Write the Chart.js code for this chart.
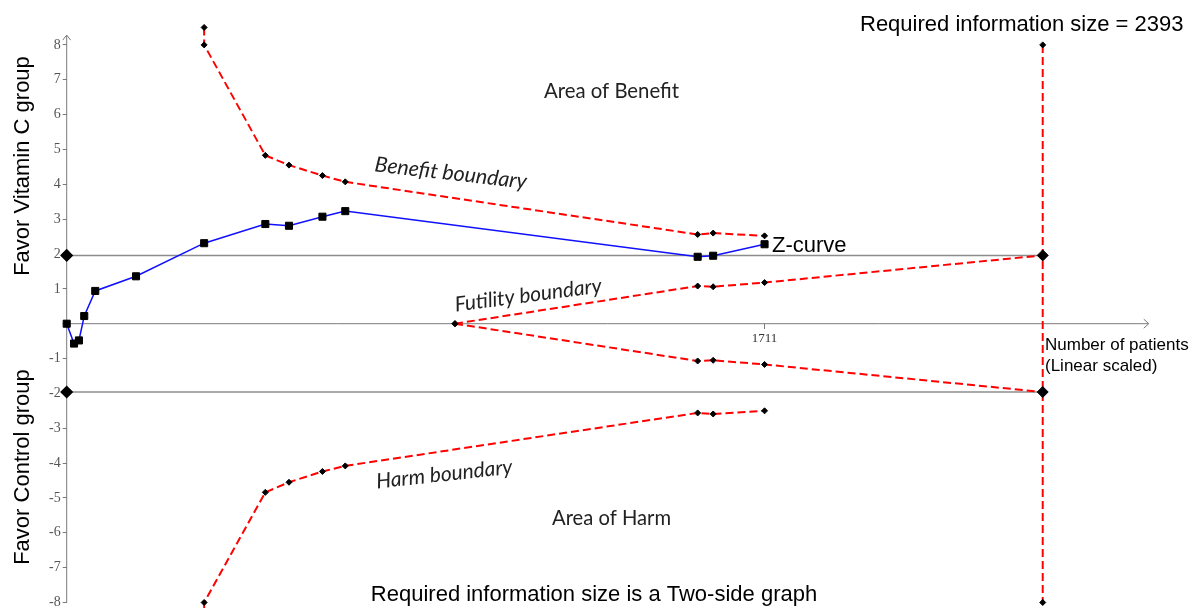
<!DOCTYPE html>
<html>
<head>
<meta charset="utf-8">
<title>Trial sequential analysis – Vitamin C</title>
<script src="https://cdn.jsdelivr.net/npm/chart.js@4/dist/chart.umd.min.js"></script>
<style>
  html, body { margin: 0; padding: 0; background: #ffffff; }
  #wrap { position: relative; width: 1192px; height: 611px; }
</style>
</head>
<body>
<div id="wrap"><canvas id="tsa"></canvas></div>
<script>
// ---- data -------------------------------------------------------------
const requiredInfoSize = 2393;
const conventionalZ = 1.96;

// cumulative Z-curve (number of patients vs. cumulative Z)
const zPatients = [0, 18, 30, 43, 70, 170, 337, 487, 545, 627, 683, 1547, 1585, 1711];
const zValues   = [0, -0.57, -0.48, 0.22, 0.94, 1.36, 2.31, 2.86, 2.81, 3.07, 3.23, 1.92, 1.95, 2.28];

// monitoring boundaries (O'Brien-Fleming type)
const boundaryPatients = [337, 337, 487, 545, 627, 683, 1547, 1585, 1711];
const benefitValues    = [8.5, 8.0, 4.83, 4.55, 4.25, 4.07, 2.56, 2.60, 2.52];
const harmValues       = [-8.5, -8.0, -4.84, -4.55, -4.24, -4.08, -2.56, -2.59, -2.50];

// futility (inner wedge) boundaries
const futilityPatients = [952, 1547, 1585, 1711, 2393];
const futilityUpper    = [0, 1.08, 1.06, 1.18, 1.96];
const futilityLower    = [0, -1.07, -1.05, -1.17, -1.96];

// required information size marker
const risPatients = [2393, 2393];
const risValues   = [8, -8];

// axis ticks
const yTickValues = [-8, -7, -6, -5, -4, -3, -2, -1, 0, 1, 2, 3, 4, 5, 6, 7, 8];
const xTickValues = [1711];

// ---- helpers ----------------------------------------------------------
const pts = (xs, ys) => xs.map((x, i) => ({ x, y: ys[i] }));

const RED = '#ff0000';
const DASH = [8, 4];

const boundaryStyle = {
  showLine: true,
  borderColor: RED,
  borderWidth: 2,
  borderDash: DASH,
  pointStyle: 'rectRot',
  pointRadius: 3,
  pointBackgroundColor: '#000',
  pointBorderColor: '#000',
  pointBorderWidth: 1,
  clip: false
};

// axis lines with arrowheads, drawn under the data
const axisArrows = {
  id: 'axisArrows',
  beforeDatasetsDraw(chart) {
    const { ctx, scales: { x, y } } = chart;
    const x0 = x.getPixelForValue(0);
    const y0 = y.getPixelForValue(0);
    const yTop = y.getPixelForValue(8.28);
    const yBottom = y.getPixelForValue(-8);
    const xEnd = x.getPixelForValue(2653);
    ctx.save();
    ctx.strokeStyle = '#7a7a7a';
    ctx.lineWidth = 1;
    ctx.beginPath();
    ctx.moveTo(x0, yBottom); ctx.lineTo(x0, yTop);
    ctx.moveTo(x0 - 4, yTop + 5); ctx.lineTo(x0, yTop); ctx.lineTo(x0 + 4, yTop + 5);
    ctx.moveTo(x0, y0); ctx.lineTo(xEnd, y0);
    ctx.moveTo(xEnd - 5, y0 - 4.5); ctx.lineTo(xEnd, y0); ctx.lineTo(xEnd - 5, y0 + 4.5);
    ctx.stroke();
    ctx.restore();
  }
};

// sets the font size so that the text fills the given width
function fitFont(ctx, text, style, family, width) {
  ctx.font = `${style} 20px ${family}`;
  const size = 20 * width / ctx.measureText(text).width;
  ctx.font = `${style} ${size.toFixed(2)}px ${family}`;
}

function rotatedText(ctx, text, cx, cy, deg, width) {
  ctx.save();
  ctx.translate(cx, cy);
  ctx.rotate(deg * Math.PI / 180);
  fitFont(ctx, text, 'italic', 'Lato, "Open Sans", sans-serif', width);
  ctx.textAlign = 'center';
  ctx.textBaseline = 'alphabetic';
  ctx.fillText(text, 0, 0);
  ctx.restore();
}

// annotations: areas, boundary names, titles
const annotations = {
  id: 'annotations',
  afterDatasetsDraw(chart) {
    const { ctx } = chart;
    ctx.save();

    // plain sans-serif labels
    ctx.fillStyle = '#000';
    ctx.font = '22px "Liberation Sans", Arial, sans-serif';
    ctx.textBaseline = 'alphabetic';
    ctx.textAlign = 'left';
    ctx.fillText('Required information size = ' + requiredInfoSize, 860, 31);
    ctx.fillText('Z-curve', 772, 252);
    ctx.textAlign = 'center';
    ctx.fillText('Required information size is a Two-side graph', 594, 601);

    ctx.font = '17px "Liberation Sans", Arial, sans-serif';
    ctx.textAlign = 'left';
    ctx.fillText('Number of patients', 1045, 350);
    ctx.fillText('(Linear scaled)', 1045, 371);

    // y-axis titles
    ctx.font = '22px "Liberation Sans", Arial, sans-serif';
    ctx.textAlign = 'center';
    ctx.save();
    ctx.translate(29, 166);
    ctx.rotate(-Math.PI / 2);
    ctx.fillText('Favor Vitamin C group', 0, 0);
    ctx.restore();
    ctx.save();
    ctx.translate(29, 467);
    ctx.rotate(-Math.PI / 2);
    ctx.fillText('Favor Control group', 0, 0);
    ctx.restore();

    // area labels
    ctx.fillStyle = '#222';
    ctx.textAlign = 'left';
    fitFont(ctx, 'Area of Benefit', 'normal', 'Lato, "Open Sans", sans-serif', 135);
    ctx.fillText('Area of Benefit', 544, 98);
    fitFont(ctx, 'Area of Harm', 'normal', 'Lato, "Open Sans", sans-serif', 119);
    ctx.fillText('Area of Harm', 552, 525);

    // boundary names
    rotatedText(ctx, 'Benefit boundary', 450, 180, 6.5, 153);
    rotatedText(ctx, 'Futility boundary', 529, 302, -7.5, 148);
    rotatedText(ctx, 'Harm boundary', 445, 481, -6.2, 137);

    ctx.restore();
  }
};

// ---- chart ------------------------------------------------------------
new Chart(document.getElementById('tsa'), {
  type: 'scatter',
  data: {
    datasets: [
      {
        label: 'Z-curve',
        data: pts(zPatients, zValues),
        showLine: true,
        borderColor: '#1010ff',
        borderWidth: 1.5,
        pointStyle: 'rect',
        pointRadius: 5,
        pointBackgroundColor: '#000',
        pointBorderColor: '#000',
        pointBorderWidth: 1,
        clip: false
      },
      { label: 'Benefit boundary', data: pts(boundaryPatients, benefitValues), ...boundaryStyle },
      { label: 'Harm boundary', data: pts(boundaryPatients, harmValues), ...boundaryStyle },
      {
        label: 'Futility boundary (upper)',
        data: pts(futilityPatients, futilityUpper),
        ...boundaryStyle,
        pointRadius: [3, 3, 3, 3, 5.5]
      },
      {
        label: 'Futility boundary (lower)',
        data: pts(futilityPatients, futilityLower),
        ...boundaryStyle,
        pointRadius: [3, 3, 3, 3, 5.5]
      },
      { label: 'Required information size', data: pts(risPatients, risValues), ...boundaryStyle },
      {
        label: 'Conventional boundary (upper)',
        data: [{ x: 0, y: conventionalZ }, { x: requiredInfoSize, y: conventionalZ }],
        showLine: true,
        borderColor: '#8c8c8c',
        borderWidth: 1.5,
        pointStyle: 'rectRot',
        pointRadius: [5.5, 0],
        pointBackgroundColor: '#000',
        pointBorderColor: '#000',
        clip: false
      },
      {
        label: 'Conventional boundary (lower)',
        data: [{ x: 0, y: -conventionalZ }, { x: requiredInfoSize, y: -conventionalZ }],
        showLine: true,
        borderColor: '#8c8c8c',
        borderWidth: 1.5,
        pointStyle: 'rectRot',
        pointRadius: [5.5, 0],
        pointBackgroundColor: '#000',
        pointBorderColor: '#000',
        clip: false
      }
    ]
  },
  options: {
    responsive: true,
    maintainAspectRatio: false,
    animation: false,
    layout: { padding: 0, autoPadding: false },
    plugins: {
      legend: { display: false },
      tooltip: { enabled: false },
      title: { display: false }
    },
    elements: { line: { tension: 0 } },
    scales: {
      x: {
        type: 'linear',
        position: { y: 0 },
        min: 0,
        max: 2759,
        afterBuildTicks: (s) => { s.ticks = xTickValues.map(v => ({ value: v })); },
        afterFit: (s) => { s.paddingLeft = 0; s.paddingRight = 0; },
        ticks: {
          autoSkip: false,
          maxRotation: 0,
          padding: 2,
          color: '#333',
          font: { family: '"Liberation Serif", "Times New Roman", serif', size: 13 },
          callback: (v) => String(v)
        },
        grid: { drawOnChartArea: false, drawTicks: true, tickLength: 5, color: '#7a7a7a' },
        border: { display: false }
      },
      y: {
        type: 'linear',
        position: 'left',
        min: -8.244,
        max: 9.288,
        afterBuildTicks: (s) => { s.ticks = yTickValues.map(v => ({ value: v })); },
        afterFit: (s) => { s.width = 66.7; s.paddingTop = 0; s.paddingBottom = 0; },
        ticks: {
          autoSkip: false,
          padding: 2,
          color: '#555',
          font: { family: '"Liberation Serif", "Times New Roman", serif', size: 14 },
          callback: (v) => (v === 0 ? '' : String(v))
        },
        grid: { drawOnChartArea: false, drawTicks: true, tickLength: 4, color: '#7a7a7a' },
        border: { display: false }
      }
    }
  },
  plugins: [axisArrows, annotations]
});
</script>
</body>
</html>
